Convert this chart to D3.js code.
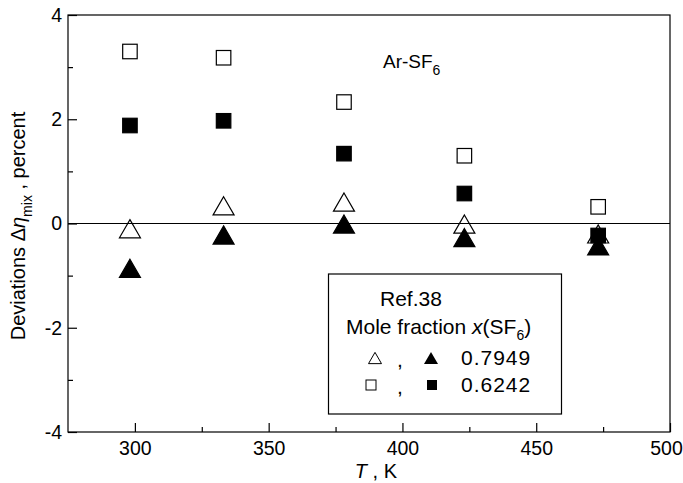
<!DOCTYPE html>
<html>
<head>
<meta charset="utf-8">
<script src="https://cdn.jsdelivr.net/npm/d3@7"></script>
<style>
  html, body { margin: 0; padding: 0; background: #fff; }
  svg text { font-family: "Liberation Sans", Arial, Helvetica, sans-serif; fill: #000; }
</style>
</head>
<body>
<svg id="chart" width="683" height="483"></svg>
<script>
// Temperatures (K) of the measurements
const temperatures = [298.15, 333.15, 378.15, 423.15, 473.15];
// Deviations (percent), x(SF6) = 0.7949
const dev7949Open   = [-0.10, 0.34, 0.41, -0.01, -0.20];
const dev7949Filled = [-0.86, -0.22, -0.01, -0.27, -0.43];
// Deviations (percent), x(SF6) = 0.6242
const dev6242Open   = [3.30, 3.18, 2.33, 1.30, 0.32];
const dev6242Filled = [1.88, 1.97, 1.34, 0.575, -0.23];

const xTicks = [300, 350, 400, 450, 500];
const xMinor = [325, 375, 425, 475];
const yTicks = [-4, -2, 0, 2, 4];
const yMinor = [-3, -1, 1, 3];

const svg = d3.select("#chart");
const m = { left: 68, right: 670, top: 15, bottom: 432 };

const x = d3.scaleLinear().domain([275, 500]).range([m.left, m.right]);
const y = d3.scaleLinear().domain([-4, 4]).range([m.bottom, m.top]);

// frame
svg.append("rect")
  .attr("x", m.left).attr("y", m.top)
  .attr("width", m.right - m.left).attr("height", m.bottom - m.top)
  .attr("fill", "none").attr("stroke", "#000").attr("stroke-width", 1.2);

// zero line
svg.append("line")
  .attr("x1", m.left).attr("x2", m.right)
  .attr("y1", y(0)).attr("y2", y(0))
  .attr("stroke", "#000").attr("stroke-width", 1.2);

// inward ticks, plain hyphen for negatives
const fmt = d => String(d);
const gx = svg.append("g").attr("transform", `translate(0,${m.bottom})`)
  .call(d3.axisBottom(x).tickValues(xTicks).tickSize(-9).tickPadding(9).tickFormat(fmt));
const gxm = svg.append("g").attr("transform", `translate(0,${m.bottom})`)
  .call(d3.axisBottom(x).tickValues(xMinor).tickSize(-5).tickFormat(""));
const gy = svg.append("g").attr("transform", `translate(${m.left},0)`)
  .call(d3.axisLeft(y).tickValues(yTicks).tickSize(-9).tickPadding(6).tickFormat(fmt));
const gym = svg.append("g").attr("transform", `translate(${m.left},0)`)
  .call(d3.axisLeft(y).tickValues(yMinor).tickSize(-5).tickFormat(""));

[gx, gxm, gy, gym].forEach(g => {
  g.select(".domain").remove();
  g.selectAll(".tick line").attr("stroke", "#000").attr("stroke-width", 1.2);
  g.selectAll("text").style("font-size", "19.5px").attr("fill", "#000");
});
// keep the last x label inside the page
gx.selectAll(".tick text").filter(d => d === 500).attr("dx", -4);

// markers
const sq = 14.5, tri = 21;
function triPath(cx, cy, s) {
  const h = s * 0.866;
  return `M${cx},${cy - h / 2}L${cx + s / 2},${cy + h / 2}L${cx - s / 2},${cy + h / 2}Z`;
}
function drawSquares(vals, filled) {
  svg.append("g").selectAll("rect").data(vals).join("rect")
    .attr("x", (d, i) => x(temperatures[i]) - sq / 2)
    .attr("y", d => y(d) - sq / 2)
    .attr("width", sq).attr("height", sq)
    .attr("fill", filled ? "#000" : "#fff")
    .attr("stroke", "#000").attr("stroke-width", 1.2);
}
function drawTriangles(vals, filled) {
  svg.append("g").selectAll("path").data(vals).join("path")
    .attr("d", (d, i) => triPath(x(temperatures[i]), y(d), tri))
    .attr("fill", filled ? "#000" : "none")
    .attr("stroke", "#000").attr("stroke-width", 1.2);
}
drawSquares(dev6242Open, false);
drawSquares(dev6242Filled, true);
drawTriangles(dev7949Open, false);
drawTriangles(dev7949Filled, true);

// system label
const sys = svg.append("text").attr("x", 383).attr("y", 68).style("font-size", "19px");
sys.append("tspan").text("Ar-SF");
sys.append("tspan").attr("dy", 7).style("font-size", "14px").text("6");

// legend
const lg = svg.append("g");
lg.append("rect").attr("x", 328.5).attr("y", 274).attr("width", 233).attr("height", 140)
  .attr("fill", "#fff").attr("stroke", "#000").attr("stroke-width", 1.2);
lg.append("text").attr("x", 380).attr("y", 306).style("font-size", "21px").text("Ref.38");
const mf = lg.append("text").attr("x", 346).attr("y", 334).style("font-size", "21px");
mf.append("tspan").text("Mole fraction ");
mf.append("tspan").style("font-style", "italic").text("x");
mf.append("tspan").text("(SF");
mf.append("tspan").attr("dy", 6).style("font-size", "14px").text("6");
mf.append("tspan").attr("dy", -6).text(")");

const rows = [
  { shape: "tri", label: "0.7949", yy: 365 },
  { shape: "sq", label: "0.6242", yy: 392 }
];
rows.forEach(r => {
  const cy = r.yy - 7;
  if (r.shape === "tri") {
    lg.append("path").attr("d", triPath(375, cy, 13)).attr("fill", "none").attr("stroke", "#000").attr("stroke-width", 1);
    lg.append("path").attr("d", triPath(431, cy, 14)).attr("fill", "#000");
  } else {
    lg.append("rect").attr("x", 366).attr("y", cy - 5).attr("width", 10).attr("height", 10)
      .attr("fill", "#fff").attr("stroke", "#000").attr("stroke-width", 1);
    lg.append("rect").attr("x", 427).attr("y", cy - 5).attr("width", 10).attr("height", 10).attr("fill", "#000");
  }
  lg.append("text").attr("x", 397).attr("y", r.yy + 2).style("font-size", "21px").text(",");
  lg.append("text").attr("x", 461).attr("y", r.yy).style("font-size", "21px")
    .style("letter-spacing", "1px").text(r.label);
});

// axis titles
const xt = svg.append("text").attr("x", 397).attr("y", 478).attr("text-anchor", "end").style("font-size", "20px");
xt.append("tspan").style("font-style", "italic").text("T");
xt.append("tspan").text(" , K");

const yt = svg.append("text").attr("transform", `translate(25,226) rotate(-90)`)
  .attr("text-anchor", "middle").style("font-size", "20px");
yt.append("tspan").text("Deviations \u0394");
yt.append("tspan").style("font-style", "italic").text("\u03B7");
yt.append("tspan").attr("dy", 7).style("font-size", "14px").text("mix");
yt.append("tspan").attr("dy", -7).text(" , percent");
</script>
</body>
</html>
